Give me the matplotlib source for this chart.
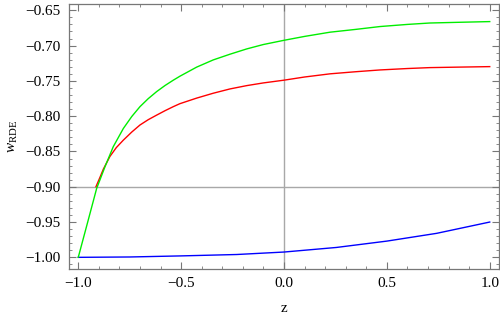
import numpy as np
import matplotlib
matplotlib.use('Agg')
import matplotlib.pyplot as plt
from matplotlib.ticker import MultipleLocator

plt.rcParams['font.family'] = ['Liberation Serif', 'DejaVu Serif']
plt.rcParams['mathtext.fontset'] = 'custom'
plt.rcParams['mathtext.rm'] = 'Liberation Serif'
plt.rcParams['mathtext.it'] = 'Liberation Serif:italic'

# values
z_green = [-1.0, -0.955, -0.9105, -0.870, -0.830, -0.781, -0.740, -0.700, -0.660,
           -0.619, -0.578, -0.538, -0.506, -0.4245, -0.344, -0.2625, -0.181,
           -0.1006, 0.0, 0.1, 0.224, 0.35, 0.467, 0.6, 0.709, 0.85, 1.0]
w_green = [-1.0, -0.951, -0.9023, -0.8716, -0.8433, -0.8175, -0.8005, -0.7865, -0.7752,
           -0.7652, -0.7565, -0.7490, -0.7434, -0.7305, -0.7203, -0.7122, -0.7047,
           -0.6985, -0.6925, -0.687, -0.681, -0.677, -0.673, -0.670, -0.668, -0.667, -0.666]

z_red = [-0.914, -0.895, -0.878, -0.846, -0.815, -0.781, -0.740, -0.700, -0.660,
         -0.619, -0.578, -0.538, -0.506, -0.4245, -0.344, -0.2625, -0.181, -0.1006,
         0.0, 0.1, 0.224, 0.35, 0.467, 0.6, 0.709, 0.85, 1.0]
w_red = [-0.900, -0.887, -0.875, -0.857, -0.8445, -0.834, -0.8225, -0.8125, -0.8050,
         -0.7985, -0.7922, -0.7865, -0.7823, -0.7744, -0.7675, -0.7614, -0.7567, -0.7529,
         -0.749, -0.7445, -0.740, -0.737, -0.7345, -0.7325, -0.7312, -0.7305, -0.7298]

z_blue = [-1.0, -0.75, -0.505, -0.23, 0.0, 0.255, 0.5, 0.742, 1.0]
w_blue = [-1.0, -0.9995, -0.998, -0.996, -0.9925, -0.986, -0.977, -0.966, -0.950]

xmin, xmax = -1.045, 1.045
ymin, ymax = -1.0167, -0.6413

fig = plt.figure(figsize=(5.0, 3.2), dpi=100)
ax = fig.add_axes([0.138, 0.159, 0.86, 0.828])

# gray axes through the origin of the Mathematica-style plot
ax.axvline(0.0, color='#a8a8a8', linewidth=1.0, zorder=1)
ax.axhline(-0.9, color='#a8a8a8', linewidth=1.0, zorder=1)

ax.plot(z_blue, w_blue, '-', color='#0000ff', linewidth=1.0, zorder=3)
ax.plot(z_red, w_red, '-', color='#ff0000', linewidth=1.0, zorder=3)
ax.plot(z_green, w_green, '-', color='#00ee00', linewidth=1.0, zorder=3)

ax.set_xlim(xmin, xmax)
ax.set_ylim(ymin, ymax)

ax.xaxis.set_minor_locator(MultipleLocator(0.1))
ax.yaxis.set_minor_locator(MultipleLocator(0.01))
ax.set_xticks([-1.0, -0.5, 0.0, 0.5, 1.0])
ax.set_xticklabels(['\u22121.0', '\u22120.5', '0.0', '0.5', '1.0'])
yt = [-1.0, -0.95, -0.9, -0.85, -0.8, -0.75, -0.7, -0.65]
ax.set_yticks(yt)
ax.set_yticklabels(['\u2212%.2f' % abs(v) for v in yt])

ax.tick_params(which='both', direction='in', top=True, right=True,
               color='#777777', labelsize=11, pad=6)
ax.tick_params(which='major', length=5, width=0.8)
ax.tick_params(which='minor', length=2.5, width=0.6)
for s in ax.spines.values():
    s.set_color('#777777')
    s.set_linewidth(0.9)

ax.set_xlabel('z', fontsize=11, labelpad=8)
ax.set_ylabel(r'$w_{\mathrm{RDE}}$', fontsize=11, labelpad=4)

plt.savefig('out.png', dpi=100)
plt.close()
